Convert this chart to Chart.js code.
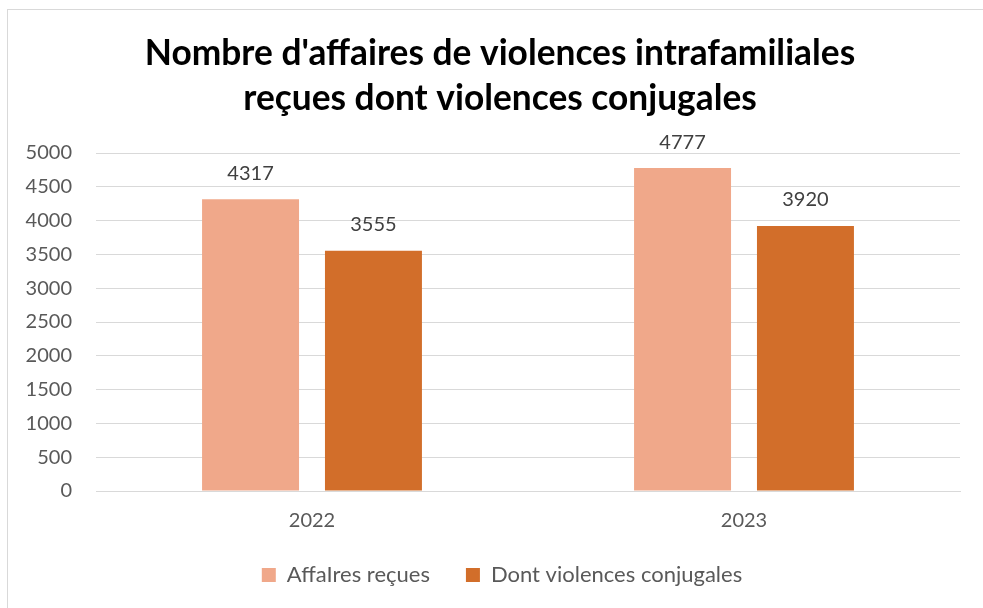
<!DOCTYPE html>
<html lang="fr">
<head>
<meta charset="utf-8">
<title>Violences intrafamiliales</title>
<script src="https://cdn.jsdelivr.net/npm/chart.js@4.4.1/dist/chart.umd.min.js"></script>
<style>
  html, body { margin: 0; padding: 0; background: #ffffff; overflow: hidden; }
  #wrap { position: relative; width: 983px; height: 608px; overflow: hidden; }
  #frame {
    position: absolute; left: 7px; top: 9px;
    width: 1100px; height: 700px;
    border: 1px solid #d9d9d9; box-sizing: border-box;
  }
  #chart { position: absolute; left: 0; top: 0; }
</style>
</head>
<body>
<div id="wrap">
  <div id="frame"></div>
  <canvas id="chart" width="983" height="608"></canvas>
</div>
<script>
// ============================================================================
// Data
// ============================================================================

const YEARS = ['2022', '2023'];
const AFFAIRES_RECUES = [4317, 4777];
const VIOLENCES_CONJUGALES = [3555, 3920];
const SERIES_NAMES = ['AffaIres reçues', 'Dont violences conjugales'];
const TITLE_LINES = ["Nombre d'affaires de violences intrafamiliales", 'reçues dont violences conjugales'];
const Y_MAX = 5000;
const Y_STEP = 500;

const COLOR_LIGHT = '#F0A88A';
const COLOR_DARK = '#D26E2A';
const GRID_COLOR = '#D9D9D9';
const TEXT_COLOR = '#595959';
const FONT = "Lato, 'Open Sans', sans-serif";

// ============================================================================
// Plugins
// ============================================================================

// Value labels above each bar
const barValueLabels = {
  id: 'barValueLabels',
  afterDatasetsDraw(chart) {
    const ctx = chart.ctx;
    ctx.save();
    ctx.font = '20px ' + FONT;
    ctx.fillStyle = '#404040';
    ctx.textAlign = 'center';
    ctx.textBaseline = 'middle';
    chart.data.datasets.forEach((ds, i) => {
      const meta = chart.getDatasetMeta(i);
      meta.data.forEach((bar, j) => {
        ctx.fillText(String(ds.data[j]), bar.x, bar.y - 26);
      });
    });
    ctx.restore();
  }
};

// Title and legend are centred on the frame, a bit right of the plot centre
const shiftBoxes = {
  id: 'shiftBoxes',
  afterLayout(chart) {
    if (chart.titleBlock) {
      chart.titleBlock.left += 20;
      chart.titleBlock.right += 20;
    }
    if (chart.legend) {
      chart.legend.left += 22;
      chart.legend.right += 22;
    }
  }
};

// ============================================================================
// Chart
// ============================================================================

const ctx = document.getElementById('chart').getContext('2d');

new Chart(ctx, {
  type: 'bar',
  data: {
    labels: YEARS,
    datasets: [
      {
        label: SERIES_NAMES[0],
        data: AFFAIRES_RECUES,
        backgroundColor: COLOR_LIGHT,
        categoryPercentage: 0.569,
        barPercentage: 0.789
      },
      {
        label: SERIES_NAMES[1],
        data: VIOLENCES_CONJUGALES,
        backgroundColor: COLOR_DARK,
        categoryPercentage: 0.569,
        barPercentage: 0.789
      }
    ]
  },
  options: {
    responsive: false,
    animation: false,
    layout: {
      padding: { left: 0, right: 23, top: 0, bottom: 12 }
    },
    scales: {
      x: {
        grid: { display: false, drawTicks: false },
        border: { display: true, color: GRID_COLOR, width: 1 },
        ticks: {
          color: TEXT_COLOR,
          font: { family: FONT, size: 20 },
          padding: 18
        },
        afterFit(scale) { scale.height = 37; }
      },
      y: {
        min: 0,
        max: Y_MAX,
        grid: { color: GRID_COLOR, lineWidth: 1, drawTicks: false },
        border: { display: false },
        ticks: {
          stepSize: Y_STEP,
          color: TEXT_COLOR,
          font: { family: FONT, size: 20 },
          padding: 24,
          callback: (v) => String(v)
        },
        afterFit(scale) { scale.width = 96; }
      }
    },
    plugins: {
      title: {
        display: true,
        text: TITLE_LINES,
        color: '#000000',
        font: { family: FONT, size: 35.3, weight: 'bold', lineHeight: 45 / 35.3 },
        padding: { top: 31, bottom: 32 }
      },
      legend: {
        position: 'bottom',
        labels: {
          color: TEXT_COLOR,
          font: { family: FONT, size: 22 },
          boxWidth: 14,
          boxHeight: 14,
          padding: 36
        }
      },
      tooltip: { enabled: false }
    }
  },
  plugins: [barValueLabels, shiftBoxes]
});
</script>
</body>
</html>
